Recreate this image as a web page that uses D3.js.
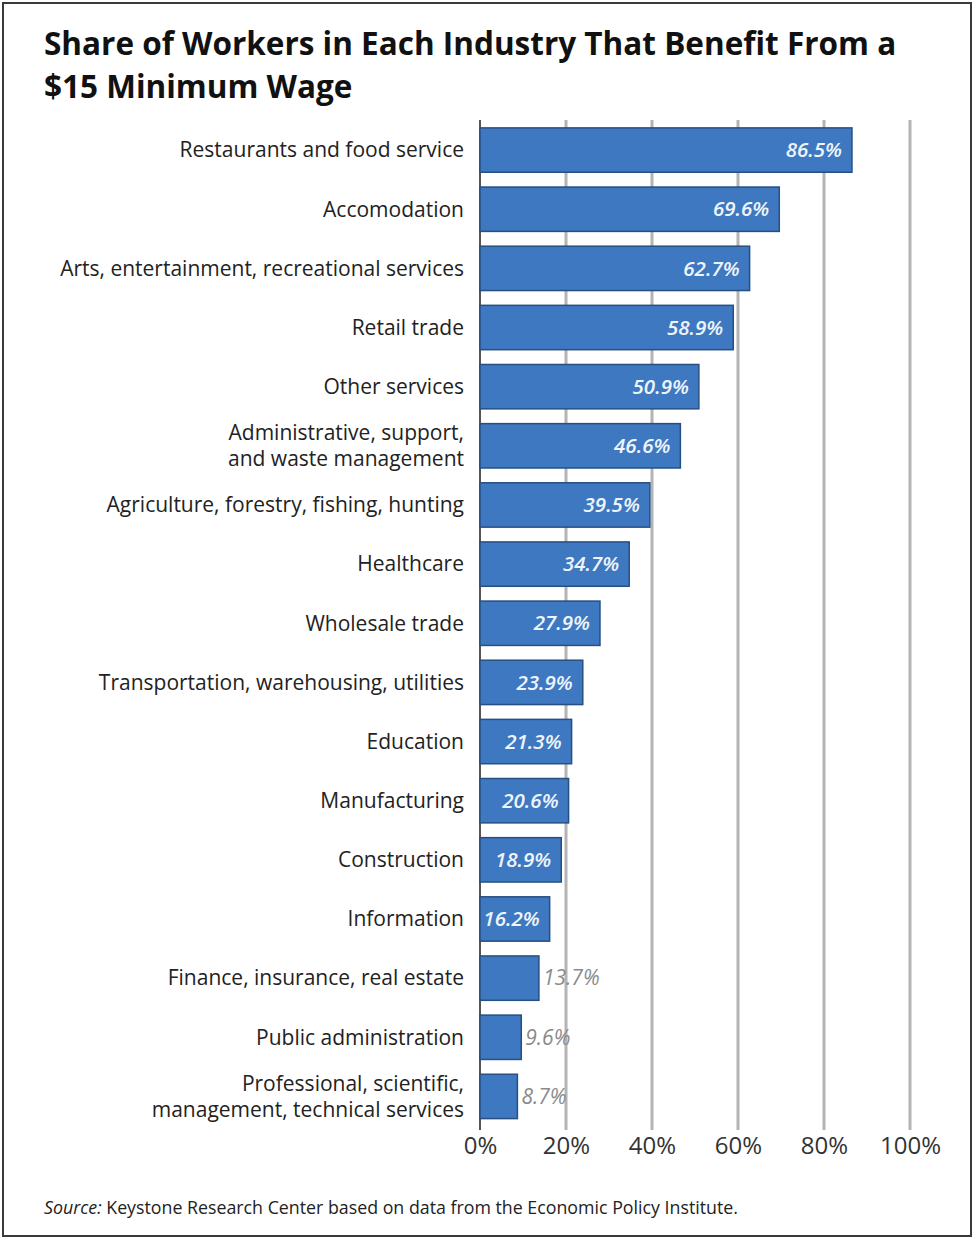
<!DOCTYPE html>
<html>
<head>
<meta charset="utf-8">
<script src="https://cdn.jsdelivr.net/npm/d3@7"></script>
<style>
  html, body { margin: 0; padding: 0; background: #fff; }
  svg { display: block; }
</style>
</head>
<body>
<script>
// Industries, top to bottom, with the share of workers who would benefit
const industries = [
  ["Restaurants and food service"],
  ["Accomodation"],
  ["Arts, entertainment, recreational services"],
  ["Retail trade"],
  ["Other services"],
  ["Administrative, support,", "and waste management"],
  ["Agriculture, forestry, fishing, hunting"],
  ["Healthcare"],
  ["Wholesale trade"],
  ["Transportation, warehousing, utilities"],
  ["Education"],
  ["Manufacturing"],
  ["Construction"],
  ["Information"],
  ["Finance, insurance, real estate"],
  ["Public administration"],
  ["Professional, scientific,", "management, technical services"]
];
const shares = [86.5, 69.6, 62.7, 58.9, 50.9, 46.6, 39.5, 34.7, 27.9, 23.9, 21.3, 20.6, 18.9, 16.2, 13.7, 9.6, 8.7];
const tickValues = [0, 20, 40, 60, 80, 100];

const W = 974, H = 1238;
const font = "'Open Sans', 'Noto Sans', sans-serif";

const svg = d3.select("body").append("svg")
  .attr("width", W).attr("height", H);

// frame
svg.append("rect")
  .attr("x", 3).attr("y", 3).attr("width", W - 6).attr("height", H - 5)
  .attr("fill", "#fff").attr("stroke", "#3a3a3a").attr("stroke-width", 2);

// title
const title = svg.append("text")
  .attr("font-family", font).attr("font-weight", 700)
  .attr("font-size", 31.5).attr("fill", "#111");
title.append("tspan").attr("x", 44).attr("y", 55).text("Share of Workers in Each Industry That Benefit From a");
title.append("tspan").attr("x", 44).attr("y", 98).text("$15 Minimum Wage");

const rows = industries.map((lines, i) => ({ key: i, lines, value: shares[i] }));

const x = d3.scaleLinear().domain([0, 100]).range([480, 910]);
const y = d3.scaleBand().domain(rows.map(d => d.key)).range([120.5, 1126]).paddingInner(0.25).paddingOuter(0.125);

// vertical gridlines
svg.append("g").selectAll("line")
  .data(tickValues.filter(t => t > 0))
  .join("line")
  .attr("x1", d => x(d)).attr("x2", d => x(d))
  .attr("y1", 120).attr("y2", 1130)
  .attr("stroke", "#b4b4b4").attr("stroke-width", 3);

// baseline
svg.append("line")
  .attr("x1", x(0)).attr("x2", x(0)).attr("y1", 120).attr("y2", 1130)
  .attr("stroke", "#555").attr("stroke-width", 2);

// x axis labels
const axis = d3.axisBottom(x).tickValues(tickValues).tickFormat(d => d + "%").tickSize(0).tickPadding(0);
const gAxis = svg.append("g").attr("transform", "translate(0,1137)").call(axis);
gAxis.select(".domain").remove();
gAxis.selectAll("text")
  .attr("font-family", font).attr("font-size", 24).attr("fill", "#333")
  .attr("dy", "0.71em");

// bars
svg.append("g").selectAll("rect")
  .data(rows)
  .join("rect")
  .attr("x", x(0))
  .attr("y", d => y(d.key))
  .attr("width", d => x(d.value) - x(0))
  .attr("height", y.bandwidth())
  .attr("fill", "#3e78c0")
  .attr("stroke", "#274f82").attr("stroke-width", 1.5);

// value labels: inside the bar when it fits, otherwise just past its end
const inside = d => d.value >= 15;
svg.append("g").selectAll("text")
  .data(rows)
  .join("text")
  .attr("x", d => inside(d) ? x(d.value) - 10 : x(d.value) + 4)
  .attr("y", d => y(d.key) + y.bandwidth() / 2)
  .attr("dy", "0.35em")
  .attr("text-anchor", d => inside(d) ? "end" : "start")
  .attr("font-family", font).attr("font-style", "italic")
  .attr("font-weight", d => inside(d) ? 600 : 400)
  .attr("font-size", d => inside(d) ? 20.5 : 21)
  .attr("fill", d => inside(d) ? "#eef4fb" : "#8a8a8a")
  .text(d => d.value.toFixed(1) + "%");

// category labels (two-line names are stacked around the bar centre)
const lineGap = 26;
svg.append("g").selectAll("g")
  .data(rows)
  .join("g")
  .each(function(d) {
    const n = d.lines.length;
    const cy = y(d.key) + y.bandwidth() / 2;
    d3.select(this).selectAll("text")
      .data(d.lines)
      .join("text")
      .attr("x", 464)
      .attr("y", (line, j) => cy + (j - (n - 1) / 2) * lineGap)
      .attr("dy", "0.35em")
      .attr("text-anchor", "end")
      .attr("font-family", font).attr("font-size", 21).attr("fill", "#222")
      .text(line => line);
  });

// source note
const src = svg.append("text")
  .attr("x", 44).attr("y", 1214)
  .attr("font-family", font).attr("font-size", 17.8).attr("fill", "#222");
src.append("tspan").attr("font-style", "italic").text("Source:");
src.append("tspan").text(" Keystone Research Center based on data from the Economic Policy Institute.");
</script>
</body>
</html>
